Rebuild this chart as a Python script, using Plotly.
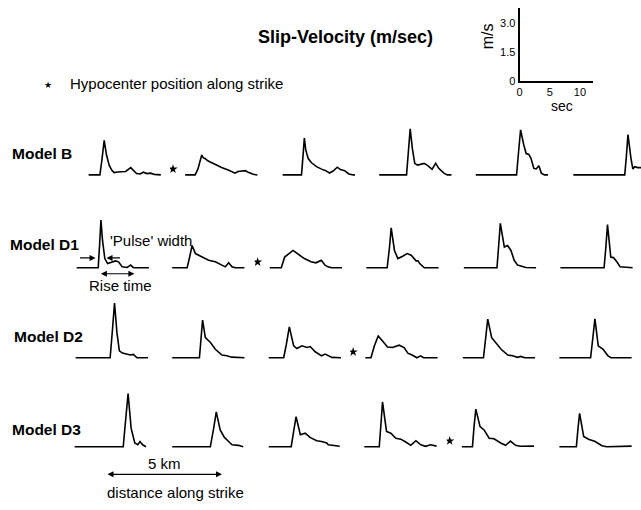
import plotly.graph_objects as go

# ---------------- data (time in s, slip velocity in m/s) ----------------
row_labels = ["Model B", "Model D1", "Model D2", "Model D3"]
hypo_col = [1, 2, 3, 4]          # column index just right of the hypocenter star

B1 = [(0,0),(1.86,0),(2.2,0.8),(2.57,1.79),(2.95,1.03),(3.39,0.51),(3.8,0.25),(4.2,0.12),(4.75,0.15),(5.3,0.17),(6.1,0.18),(6.6,0.3),(6.94,0.38),(7.3,0.26),(7.9,0.07),(8.5,0.05),(9.0,0.14),(9.6,0.07),(10.2,0.09),(10.8,0.03),(11.9,0)]
B2 = [(0,0),(1.64,0),(2.1,0.3),(2.45,0.75),(2.73,1.03),(3.0,0.88),(3.27,0.85),(3.8,0.72),(4.9,0.55),(6.0,0.38),(7.1,0.26),(8.2,0.09),(8.7,0.18),(9.3,0.2),(9.9,0.22),(10.5,0.12),(11.2,0.03),(11.9,0)]
B3 = [(0,0),(3.1,0),(3.35,1.0),(3.57,1.91),(3.8,1.3),(4.2,0.85),(4.75,0.63),(5.57,0.43),(6.4,0.3),(7.1,0.22),(7.7,0.1),(8.3,0.2),(9.0,0.4),(9.5,0.28),(10.2,0.22),(10.9,0.05),(11.6,0),(11.9,0)]
B4 = [(0,0),(4.5,0),(4.8,1.2),(5.1,2.39),(5.46,1.37),(5.85,0.6),(6.3,0.51),(7.0,0.55),(7.4,0.6),(8.0,0.48),(8.7,0.29),(9.3,0.6),(9.8,0.34),(10.65,0.09),(11.2,0),(11.9,0)]
B5 = [(0,0),(6.72,0),(7.05,1.2),(7.38,2.34),(7.92,1.54),(8.3,1.11),(8.74,1.06),(9.1,0.85),(9.56,0.34),(9.95,0.31),(10.4,0.48),(10.8,0.09),(11.3,0),(11.9,0)]
B6 = [(0,0),(8.47,0),(8.75,1.0),(9.0,2.09),(9.5,0.85),(9.8,0.31),(10.1,0.43),(10.6,0.38),(11.9,0.38)]

D1_1 = [(0,0),(3.55,0),(3.8,1.3),(4.0,2.48),(4.26,1.42),(4.64,0.48),(5.1,0.22),(5.6,0.26),(6.4,0.36),(6.9,0.31),(7.5,0.05),(8.3,0.02),(8.9,0.14),(9.3,0.02),(9.7,0),(11.9,0)]
D1_2 = [(0,0),(2.46,0),(2.9,0.6),(3.28,1.16),(3.83,0.74),(4.9,0.56),(6.0,0.39),(7.1,0.31),(8.2,0.14),(8.75,0.05),(9.3,0.26),(9.85,0.05),(10.4,0),(11.9,0)]
D1_3 = [(0,0),(1.9,0),(2.46,0.56),(3.0,0.7),(3.83,0.9),(4.4,0.77),(4.9,0.65),(5.7,0.48),(6.8,0.31),(7.6,0.26),(8.5,0.39),(9.1,0.14),(9.6,0.05),(10.2,0),(11.9,0)]
D1_4 = [(0,0),(3.44,0),(3.8,1.0),(4.1,2.07),(4.64,0.9),(5.2,0.48),(6.0,0.6),(6.72,0.74),(7.4,0.65),(8.2,0.36),(8.5,0.36),(8.8,0.22),(9.56,0),(11.9,0)]
D1_5 = [(0,0),(5.46,0),(5.75,1.2),(6.01,2.31),(6.67,1.08),(7.2,1.16),(7.76,0.9),(8.3,0.39),(8.85,0.14),(9.6,0.09),(10.2,0.02),(11.9,0)]
D1_6 = [(0,0),(7.2,0),(7.5,1.1),(7.76,2.24),(8.3,0.56),(8.74,0.53),(9.3,0.31),(9.85,0.05),(11.9,0)]

D2_1 = [(0,0),(5.68,0),(6.05,1.4),(6.4,2.84),(6.8,1.3),(7.2,0.36),(7.7,0.24),(8.5,0.19),(9.0,0.14),(9.5,0.17),(10.1,0),(11.9,0)]
D2_2 = [(0,0),(4.48,0),(4.75,1.0),(5.0,1.95),(5.46,1.04),(6.3,0.79),(7.1,0.44),(8.2,0.14),(9.0,0.1),(9.8,0.03),(11.9,0)]
D2_3 = [(0,0),(2.46,0),(2.9,0.7),(3.39,1.6),(4.1,0.62),(4.64,0.48),(5.46,0.62),(6.3,0.53),(6.83,0.58),(7.65,0.31),(8.7,0.1),(9.3,0.19),(10.4,0.02),(11.9,0)]
D2_4 = [(0,0),(0.93,0),(1.5,0.62),(2.13,1.13),(2.84,0.87),(3.66,0.56),(4.5,0.53),(5.57,0.65),(6.4,0.53),(7.0,0.24),(7.7,0.14),(8.5,0),(9.1,0.1),(9.6,0),(11.9,0)]
D2_5 = [(0,0),(3.4,0),(3.75,1.0),(4.1,2.0),(4.75,1.04),(5.46,0.79),(6.3,0.44),(7.4,0.14),(8.2,0.1),(9.0,0.02),(9.56,0.07),(10.2,0),(11.9,0)]
D2_6 = [(0,0),(5.14,0),(5.5,1.0),(5.85,2.02),(6.4,0.62),(7.2,0.44),(8.0,0.1),(8.5,0),(11.9,0)]

D3_1 = [(0,0),(8.0,0),(8.4,1.4),(8.8,2.75),(9.3,0.96),(9.9,0.19),(10.4,0.1),(10.76,0.27),(11.2,0.1),(11.75,0)]
D3_2 = [(0,0),(6.28,0),(6.8,0.9),(7.26,1.81),(7.9,0.87),(8.6,0.48),(9.3,0.27),(9.85,0.1),(10.9,0.07),(11.7,0)]
D3_3 = [(0,0),(3.7,0),(4.1,0.8),(4.5,1.56),(5.2,0.62),(6.0,0.7),(6.8,0.48),(7.9,0.31),(8.7,0.27),(9.56,0.19),(9.8,0.1),(11.7,0.02)]
D3_4 = [(0,0),(2.46,0),(2.75,1.2),(3.0,2.32),(3.66,0.79),(4.37,0.7),(5.2,0.44),(6.0,0.39),(6.83,0.24),(7.65,0.07),(8.5,0.31),(9.3,0.1),(10.1,0.02),(10.9,0.1),(11.9,0.03)]
D3_5 = [(0,0),(1.75,0),(2.0,1.0),(2.3,1.95),(3.0,1.04),(3.66,0.87),(4.5,0.44),(5.3,0.41),(6.4,0.19),(7.2,0.07),(8.0,0.29),(8.85,0.07),(9.6,0.02),(11.9,0.03)]
D3_6 = [(0,0),(2.8,0),(3.05,0.9),(3.33,1.73),(4.0,0.53),(4.8,0.39),(5.9,0.27),(7.0,0.05),(7.8,0),(11.9,0.03)]

row_waves = [[B1, B2, B3, B4, B5, B6],
             [D1_1, D1_2, D1_3, D1_4, D1_5, D1_6],
             [D2_1, D2_2, D2_3, D2_4, D2_5, D2_6],
             [D3_1, D3_2, D3_3, D3_4, D3_5, D3_6]]

scale_t_ticks = [0, 5, 10]
scale_v_ticks = [0, 1.5, 3.0]
scale_v_labels = ["0", "1.5", "3.0"]

# ---------------- layout geometry (pixels) ----------------
W, H = 641, 510
PX_S = 6.1     # px per second
PX_V = 19.5    # px per m/s
T_MIN, T_MAX, V_MIN, V_MAX = -2.5, 12.0, -0.3, 3.2
row_base = [177, 271, 362, 452]
col_x0 = [[86, 183, 281, 378, 475, 573],
          [74, 170, 268, 365, 463, 560],
          [73, 170, 267, 364, 462, 559],
          [72, 170, 267, 363, 461, 559]]
FONT = "Liberation Sans, Arial, Helvetica, sans-serif"

def px(x):
    return x / W

def py(y):
    return 1 - y / H

fig = go.Figure()
layout = dict(width=W, height=H, margin=dict(l=0, r=0, t=0, b=0),
              paper_bgcolor="white", plot_bgcolor="white",
              showlegend=False, font=dict(family=FONT, color="black"))

n = 0
for r, waves in enumerate(row_waves):
    for c, wav in enumerate(waves):
        n += 1
        sfx = "" if n == 1 else str(n)
        x0 = col_x0[r][c]
        xl = x0 + T_MIN * PX_S
        x1 = min(x0 + T_MAX * PX_S, W)
        base = row_base[r]
        layout["xaxis" + sfx] = dict(domain=[px(xl), px(x1)], range=[T_MIN, (x1 - x0) / PX_S],
                                     visible=False, anchor="y" + sfx, fixedrange=True)
        layout["yaxis" + sfx] = dict(domain=[py(base - V_MIN * PX_V), py(base - V_MAX * PX_V)],
                                     range=[V_MIN, V_MAX], visible=False, anchor="x" + sfx,
                                     fixedrange=True)
        fig.add_trace(go.Scatter(x=[p[0] for p in wav], y=[p[1] for p in wav], mode="lines",
                                 line=dict(color="black", width=1.6),
                                 xaxis="x" + sfx, yaxis="y" + sfx, hoverinfo="skip"))
        if c == hypo_col[r]:
            fig.add_trace(go.Scatter(x=[-2.0], y=[0.3], mode="markers",
                                     marker=dict(symbol="star", size=7, color="black",
                                                 line=dict(width=0)),
                                     xaxis="x" + sfx, yaxis="y" + sfx, hoverinfo="skip"))

# scale inset
n += 1
sfx = str(n)
layout["xaxis" + sfx] = dict(domain=[px(519), px(593)], range=[0, 12.2], anchor="y" + sfx,
                             showline=True, linecolor="black", linewidth=2, ticks="",
                             tickvals=scale_t_ticks, tickfont=dict(size=11), showgrid=False,
                             zeroline=False, fixedrange=True)
layout["yaxis" + sfx] = dict(domain=[py(82), py(8)], range=[0, 3.8], anchor="x" + sfx,
                             showline=True, linecolor="black", linewidth=2, ticks="",
                             tickvals=scale_v_ticks, ticktext=scale_v_labels,
                             tickfont=dict(size=11), showgrid=False, zeroline=False,
                             fixedrange=True)
fig.add_trace(go.Scatter(x=[], y=[], mode="lines", xaxis="x" + sfx, yaxis="y" + sfx))

ann = []
def text(t, x, y, size=15, xanchor="left", bold=False, angle=0):
    ann.append(dict(text=("<b>%s</b>" % t) if bold else t, x=px(x), y=py(y), xref="paper",
                    yref="paper", showarrow=False, xanchor=xanchor, yanchor="middle",
                    textangle=angle, borderpad=0,
                    font=dict(size=size, family=FONT, color="black")))

def arrow(x_head, y_head, x_tail, y_tail, both=False):
    a = dict(x=px(x_head), y=py(y_head), xref="paper", yref="paper", text="",
             showarrow=True, ax=x_tail - x_head, ay=y_tail - y_head,
             arrowhead=2, arrowsize=1, arrowwidth=1.2, arrowcolor="black")
    if both:
        a.update(arrowside="end+start", startarrowhead=2, startarrowsize=1)
    ann.append(a)

text("Slip-Velocity (m/sec)", 255, 37, size=18, bold=True)
text("★", 45, 86, size=9, xanchor="center")
text("Hypocenter position along strike", 66, 85, size=15)
for lab, x, y in zip(row_labels, [8, 6, 10, 8], [155, 247, 341, 435]):
    text(lab, x, y, size=15.5, bold=True)
text("'Pulse' width", 107, 243, size=15)
arrow(93, 261, 76, 261)
arrow(104, 261, 119, 261)
arrow(132, 277, 97, 277, both=True)
text("Rise time", 118, 289, size=15, xanchor="center")
arrow(220, 480, 104, 480, both=True)
text("5 km", 162, 469, size=15, xanchor="center")
text("distance along strike", 173, 498, size=15, xanchor="center")
text("m/s", 487, 37, size=16, xanchor="center", angle=-90)
text("sec", 562, 107, size=14, xanchor="center")

layout["annotations"] = ann
fig.update_layout(**layout)
fig.write_html("out.html")
